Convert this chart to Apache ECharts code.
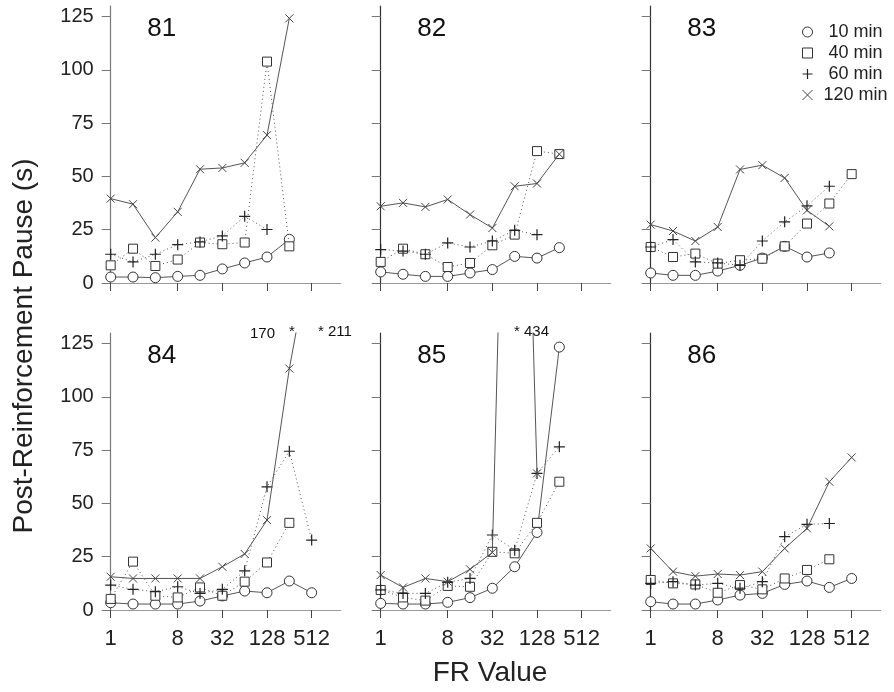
<!DOCTYPE html>
<html>
<head>
<meta charset="utf-8">
<script src="https://cdn.jsdelivr.net/npm/echarts@6/dist/echarts.min.js"></script>
<style>html,body{margin:0;padding:0;background:#fff}#c{width:894px;height:692px}</style>
</head>
<body>
<div id="c"></div>
<script>
// ---- data ----
const fr = [1, 2, 4, 8, 16, 32, 64, 128, 256, 512];
const xTickLabels = [1, 8, 32, 128, 512];
const yTickLabels = [0, 25, 50, 75, 100, 125];
const panels = ['81', '82', '83', '84', '85', '86'];
const groups = ['10 min', '40 min', '60 min', '120 min'];

const s81_10  = [2.8, 2.8, 2.5, 3.1, 3.6, 6.6, 9.4, 12.2, 20.5];
const s81_40  = [8.3, 16.1, 8.0, 11.0, 19.0, 18.2, 19.0, 103.9, 17.2];
const s81_60  = [13.5, 9.9, 13.5, 18.0, 19.3, 22.1, 31.3, 25.1];
const s81_120 = [39.6, 37.0, 21.3, 33.4, 53.4, 54.0, 56.4, 69.4, 124.2];

const s82_10  = [5.2, 4.1, 3.1, 3.1, 4.7, 6.3, 12.5, 11.7, 16.6];
const s82_40  = [9.9, 16.1, 13.5, 7.5, 9.4, 17.7, 22.7, 61.9, 60.5];
const s82_60  = [15.7, 15.0, 13.5, 18.8, 16.9, 19.7, 24.7, 22.7];
const s82_120 = [36.0, 37.6, 35.7, 39.2, 32.1, 25.8, 45.4, 46.7, 60.5];

const s83_10  = [4.7, 3.6, 3.6, 5.6, 8.3, 11.7, 17.2, 12.2, 14.1];
const s83_40  = [16.9, 12.2, 13.8, 9.1, 10.7, 11.4, 17.2, 27.9, 37.3, 51.1];
const s83_60  = [16.9, 20.4, 9.9, 9.4, 8.3, 19.7, 28.7, 36.2, 45.4];
const s83_120 = [27.4, 24.4, 19.7, 26.3, 53.3, 55.3, 49.3, 34.1, 26.6];

const s84_10  = [3.4, 2.8, 2.8, 2.8, 4.2, 6.6, 8.9, 8.1, 13.6, 8.1];
const s84_40  = [5.2, 22.7, 6.7, 5.9, 10.6, 6.7, 13.3, 22.3, 40.9];
const s84_60  = [11.7, 9.7, 8.6, 10.9, 7.8, 9.7, 18.4, 57.8, 74.5, 32.8];
const s84_120 = [15.6, 14.8, 14.8, 14.8, 14.8, 20.3, 26.3, 42.2, 113.3, 170];

const s85_10  = [3.1, 2.8, 2.8, 3.6, 5.8, 10.2, 20.3, 36.4, 123.4];
const s85_40  = [9.4, 5.9, 4.4, 11.3, 10.9, 27.3, 26.6, 40.9, 60.2];
const s85_60  = [9.4, 7.8, 7.8, 13.0, 14.8, 35.2, 28.1, 64.1, 76.6];
const s85_120 = [16.4, 10.6, 14.8, 13.3, 19.1, 27.0, 434, 64.1];

const s86_10  = [3.9, 2.8, 2.8, 4.7, 7.0, 7.8, 12.0, 13.6, 10.6, 14.8];
const s86_40  = [14.1, 12.5, 12.0, 8.1, 11.7, 9.7, 14.8, 18.8, 23.8];
const s86_60  = [12.5, 13.3, 11.7, 12.5, 10.2, 13.3, 34.4, 40.2, 40.6];
const s86_120 = [28.9, 18.0, 15.9, 16.9, 16.4, 18.0, 28.9, 38.3, 60.2, 71.6];

const panelData = [
  [s81_10, s81_40, s81_60, s81_120],
  [s82_10, s82_40, s82_60, s82_120],
  [s83_10, s83_40, s83_60, s83_120],
  [s84_10, s84_40, s84_60, s84_120],
  [s85_10, s85_40, s85_60, s85_120],
  [s86_10, s86_40, s86_60, s86_120]
];

// ---- styling ----
const FONT = '"Liberation Sans", Arial, sans-serif';
const PLUS = 'path://M0,5L10,5M5,0L5,10';
const CROSS = 'path://M0,0L10,10M10,0L0,10';
const styles = [
  {symbol: 'circle', size: 10, item: {color: '#fff', borderColor: '#333', borderWidth: 1}, line: {color: '#555', width: 1, type: 'solid'}},
  {symbol: 'rect', size: 9, item: {color: '#fff', borderColor: '#333', borderWidth: 1}, line: {color: '#555', width: 1, type: [1, 3]}},
  {symbol: PLUS, size: 11, item: {color: 'none', borderColor: '#222', borderWidth: 1.2}, line: {color: '#555', width: 1, type: [1, 3]}},
  {symbol: CROSS, size: 8, item: {color: 'none', borderColor: '#444', borderWidth: 1}, line: {color: '#555', width: 1, type: 'solid'}}
];

const colLeft = [110.7, 380.7, 650.7];
const rowTop = [6, 333];
const grids = [], xAxes = [], yAxes = [], series = [];
panels.forEach((p, i) => {
  const col = i % 3, row = Math.floor(i / 3);
  grids.push({left: colLeft[col], top: rowTop[row], width: 230, height: 277});
  xAxes.push({
    gridIndex: i, type: 'value', min: 0, max: 10.3,
    axisLine: {show: true, onZero: false, lineStyle: {color: '#999', width: 1.2}},
    axisTick: {show: true, length: 8, customValues: xTickLabels.map(v => Math.log2(v)), lineStyle: {color: '#444'}},
    axisLabel: {show: row === 1, customValues: xTickLabels.map(v => Math.log2(v)), margin: 18,
      formatter: v => String(Math.round(Math.pow(2, v))), fontSize: 22, color: '#222', fontFamily: FONT},
    splitLine: {show: false}
  });
  yAxes.push({
    gridIndex: i, type: 'value', min: 0, max: 130,
    axisLine: {show: true, lineStyle: {color: col === 0 ? '#777' : '#333', width: 1.2}},
    axisTick: {show: true, length: 9, customValues: yTickLabels, lineStyle: {color: '#777'}},
    axisLabel: {show: col === 0, customValues: yTickLabels, margin: 17, fontSize: 20, color: '#222', fontFamily: FONT},
    splitLine: {show: false}
  });
  groups.forEach((g, k) => {
    const st = styles[k];
    series.push({
      name: g, type: 'line', xAxisIndex: i, yAxisIndex: i,
      data: panelData[i][k].map((v, j) => [Math.log2(fr[j]), v]),
      symbol: st.symbol, symbolSize: st.size, showAllSymbol: true,
      itemStyle: st.item, lineStyle: st.line,
      clip: true, animation: false, silent: true,
      emphasis: {disabled: true}, z: 2 + k
    });
  });
});

const texts = [];
panels.forEach((p, i) => {
  const col = i % 3, row = Math.floor(i / 3);
  texts.push({type: 'text', x: colLeft[col] + 51, y: rowTop[row] + 23,
    style: {text: p, fontSize: 26, fontFamily: FONT, fill: '#111', align: 'center', verticalAlign: 'middle'}});
});
texts.push({type: 'text', x: 24, y: 346, rotation: Math.PI / 2,
  style: {text: 'Post-Reinforcement Pause (s)', fontSize: 28, fontFamily: FONT, fill: '#222', align: 'center', verticalAlign: 'middle'}});
texts.push({type: 'text', x: 490, y: 673,
  style: {text: 'FR Value', fontSize: 28, fontFamily: FONT, fill: '#222', align: 'center', verticalAlign: 'middle'}});
texts.push({type: 'text', x: 250, y: 334, style: {text: '170', fontSize: 15, fontFamily: FONT, fill: '#111', align: 'left', verticalAlign: 'middle'}});
texts.push({type: 'text', x: 289, y: 332, style: {text: '*', fontSize: 15, fontFamily: FONT, fill: '#111', align: 'left', verticalAlign: 'middle'}});
texts.push({type: 'text', x: 318, y: 332, style: {text: '* 211', fontSize: 15, fontFamily: FONT, fill: '#111', align: 'left', verticalAlign: 'middle'}});
texts.push({type: 'text', x: 514, y: 332, style: {text: '* 434', fontSize: 15, fontFamily: FONT, fill: '#111', align: 'left', verticalAlign: 'middle'}});

const chart = echarts.init(document.getElementById('c'), null, {renderer: 'canvas'});
chart.setOption({
  animation: false,
  backgroundColor: '#fff',
  grid: grids, xAxis: xAxes, yAxis: yAxes, series: series,
  legend: {
    orient: 'vertical', left: 795, top: 18, itemWidth: 10, itemHeight: 10, itemGap: 3,
    selectedMode: false,
    formatter: '{a|{name}}',
    textStyle: {fontSize: 18, fontFamily: FONT, color: '#222',
      rich: {a: {width: 76, align: 'center', fontSize: 18, fontFamily: FONT, color: '#222'}}},
    data: groups.map((g, k) => ({name: g, icon: styles[k].symbol, itemStyle: styles[k].item}))
  },
  graphic: texts
});
</script>
</body>
</html>
